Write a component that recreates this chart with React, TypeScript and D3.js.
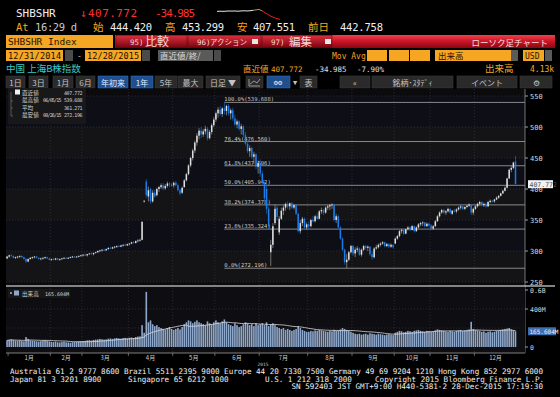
import * as React from 'react';
import * as d3 from 'd3';

type Candle = [number, number, number, number]; // open, high, low, close

const monthLabels = ['1月', '2月', '3月', '4月', '5月', '6月', '7月', '8月', '9月', '10月', '11月', '12月'];

// daily candles
const dec14: Candle[] = [[288, 292, 287, 291]];
const jan15: Candle[] = [
  [291, 294, 289, 293], [293, 295, 291, 292], [292, 293, 288, 289], [289, 291, 287, 290], [290, 292, 288, 291],
  [291, 293, 289, 292], [292, 293, 289, 290], [290, 291, 286, 287], [287, 289, 281, 283], [283, 288, 282, 287],
  [287, 290, 286, 289], [289, 291, 287, 290], [290, 292, 288, 291], [291, 292, 288, 289], [289, 290, 286, 287],
  [287, 289, 285, 288], [288, 290, 286, 289], [289, 291, 287, 290], [290, 291, 287, 288], [288, 289, 285, 286],
];
const feb15: Candle[] = [
  [286, 288, 284, 287], [287, 289, 285, 286], [286, 289, 285, 288], [288, 289, 285, 286], [286, 288, 284, 287],
  [287, 289, 286, 288], [288, 290, 287, 289], [289, 290, 287, 288], [288, 290, 287, 289], [289, 291, 288, 290],
  [290, 292, 289, 291], [291, 292, 289, 290], [290, 292, 289, 291], [291, 293, 290, 292], [292, 294, 291, 293],
];
const mar15: Candle[] = [
  [293, 295, 291, 294], [294, 296, 292, 293], [293, 295, 291, 295], [295, 297, 294, 296], [296, 298, 294, 295],
  [295, 297, 293, 297], [297, 299, 296, 298], [298, 301, 297, 300], [300, 302, 298, 301], [301, 303, 299, 302],
  [302, 304, 300, 301], [301, 304, 300, 303], [303, 306, 302, 305], [305, 307, 303, 304], [304, 307, 303, 306],
  [306, 308, 304, 307], [307, 309, 305, 308], [308, 310, 306, 307], [307, 310, 306, 309], [309, 311, 307, 310],
  [310, 312, 308, 309], [309, 312, 308, 311],
];
const apr15: Candle[] = [
  [311, 313, 309, 312], [312, 315, 311, 314], [314, 316, 312, 313], [313, 317, 312, 316], [316, 319, 314, 317],
  [317, 320, 315, 318], [318, 348, 317, 347], [381, 382, 378, 381], [412, 416, 386, 390], [388, 404, 380, 398],
  [400, 402, 376, 380], [380, 398, 378, 394], [394, 399, 386, 388], [390, 402, 388, 400], [400, 405, 395, 403],
  [403, 409, 400, 406], [406, 410, 398, 401], [401, 408, 399, 405], [405, 412, 402, 409], [409, 411, 403, 407],
  [407, 410, 403, 405],
];
const may15: Candle[] = [
  [406, 412, 402, 410], [410, 413, 404, 406], [406, 409, 396, 398], [398, 400, 390, 393], [394, 404, 392, 402],
  [403, 416, 402, 414], [414, 426, 412, 424], [424, 440, 422, 438], [438, 452, 435, 450], [450, 465, 446, 462],
  [462, 478, 458, 475], [475, 490, 470, 486], [486, 498, 480, 494], [494, 500, 482, 488], [488, 497, 484, 493],
  [493, 502, 488, 497], [497, 500, 478, 482], [482, 495, 480, 492], [492, 506, 488, 503], [503, 516, 500, 512],
];
const jun15: Candle[] = [
  [512, 525, 508, 522], [522, 532, 515, 528], [528, 534, 518, 521], [521, 532, 516, 530], [530, 539.688, 520, 526],
  [526, 536, 519, 534], [534, 537, 518, 522], [522, 530, 512, 527], [527, 531, 510, 514], [514, 520, 502, 504],
  [504, 512, 498, 509], [509, 511, 494, 497], [497, 505, 488, 501], [501, 503, 484, 487], [487, 492, 470, 473],
  [473, 478, 458, 461], [461, 470, 452, 466], [466, 468, 448, 452], [452, 460, 440, 456], [456, 458, 432, 436],
  [436, 446, 425, 442],
];
const jul15: Candle[] = [
  [442, 448, 420, 425], [425, 430, 405, 410], [410, 412, 380, 385], [400, 410, 360, 368], [368, 372, 335, 340],
  [298, 318, 276, 310], [310, 345, 305, 340], [345, 375, 342, 368], [370, 375, 350, 355], [330, 356, 326, 352],
  [352, 370, 350, 365], [365, 374, 358, 370], [370, 378, 365, 376], [376, 380, 368, 372], [372, 378, 366, 377],
  [377, 379, 368, 370], [370, 376, 367, 374], [374, 375, 358, 360], [360, 362, 330, 332], [332, 350, 328, 345],
  [345, 355, 340, 352], [352, 354, 336, 338], [338, 346, 334, 343],
];
const aug15: Candle[] = [
  [343, 348, 335, 340], [340, 352, 338, 350], [350, 356, 346, 348], [348, 358, 346, 356], [356, 361, 350, 352],
  [352, 366, 351, 364], [364, 370, 360, 366], [366, 368, 358, 362], [362, 372, 360, 370], [370, 375, 366, 372],
  [372, 376, 366, 374], [374, 377, 368, 375], [375, 376, 348, 350], [350, 360, 345, 356], [356, 358, 336, 338],
  [338, 340, 318, 320], [320, 322, 300, 302], [302, 304, 278, 282], [282, 295, 272.196, 286], [286, 300, 284, 298],
  [298, 310, 296, 308],
];
const sep15: Candle[] = [
  [308, 310, 292, 296], [296, 306, 290, 302], [302, 308, 298, 304], [304, 306, 292, 294], [294, 304, 291, 302],
  [302, 310, 300, 308], [308, 310, 302, 305], [305, 309, 300, 307], [307, 308, 292, 295], [295, 300, 286, 290],
  [290, 306, 288, 304], [304, 310, 302, 306], [306, 312, 304, 310], [310, 314, 307, 312], [312, 316, 310, 314],
  [314, 315, 306, 308], [308, 313, 306, 311], [311, 313, 305, 307], [307, 312, 305, 310], [310, 311, 304, 306],
];
const oct15: Candle[] = [
  [312, 322, 311, 320], [320, 326, 318, 324], [324, 334, 322, 332], [332, 336, 328, 334], [334, 336, 326, 328],
  [328, 336, 327, 335], [335, 340, 333, 338], [338, 340, 332, 334], [334, 342, 333, 340], [340, 341, 330, 332],
  [332, 340, 331, 338], [338, 345, 336, 343], [343, 347, 340, 345], [345, 348, 340, 346], [346, 347, 338, 340],
  [340, 346, 339, 344], [344, 346, 338, 341],
];
const nov15: Candle[] = [
  [341, 343, 334, 336], [336, 342, 334, 340], [340, 350, 339, 348], [348, 358, 347, 356], [356, 364, 354, 362],
  [362, 368, 360, 366], [366, 368, 360, 362], [362, 366, 358, 364], [364, 370, 362, 368], [368, 369, 360, 362],
  [360, 366, 358, 365], [365, 368, 362, 364], [364, 369, 361, 367], [367, 372, 365, 370], [370, 374, 367, 372],
  [372, 373, 366, 368], [368, 372, 366, 371], [371, 375, 369, 373], [373, 377, 371, 375], [375, 376, 358, 362],
  [362, 370, 358, 368],
];
const dec15: Candle[] = [
  [368, 374, 366, 372], [372, 378, 370, 376], [376, 381, 373, 379], [379, 380, 372, 374], [374, 378, 371, 376],
  [376, 378, 370, 372], [372, 381, 371, 379], [379, 383, 377, 381], [381, 382, 378, 380], [380, 384, 378, 383],
  [383, 388, 382, 386], [386, 390, 384, 389], [389, 394, 388, 393], [393, 399, 392, 397], [397, 404, 396, 402],
  [402, 418, 401, 417], [417, 433, 416, 431], [431, 437, 427, 434], [434, 444, 432, 442.758],
  [444.42, 453.299, 407.551, 407.772],
];

// daily volume, millions
const volDec14 = [70];
const volJan = [75, 80, 72, 68, 65, 70, 62, 60, 105, 85, 70, 66, 64, 60, 58, 62, 66, 70, 64, 60];
const volFeb = [55, 52, 58, 50, 48, 52, 55, 50, 48, 45, 50, 52, 55, 58, 60];
const volMar = [62, 65, 70, 72, 68, 75, 78, 80, 85, 82, 78, 80, 88, 90, 85, 92, 95, 90, 88, 94, 96, 92];
const volApr = [98, 100, 95, 105, 110, 112, 230, 150, 580, 260, 280, 240, 220, 230, 210, 200, 190, 185, 200, 210, 190];
const volMay = [180, 190, 200, 185, 210, 240, 260, 280, 270, 250, 265, 280, 260, 250, 240, 230, 270, 250, 240, 260];
const volJun = [280, 260, 250, 270, 290, 260, 240, 230, 220, 250, 230, 210, 220, 240, 260, 250, 230, 240, 220, 250, 230];
const volJul = [240, 250, 230, 260, 220, 240, 250, 230, 210, 200, 190, 200, 180, 190, 180, 170, 180, 190, 220, 200, 180, 170, 160];
const volAug = [160, 170, 165, 175, 170, 180, 175, 170, 165, 160, 170, 165, 180, 170, 175, 185, 200, 190, 180, 170, 160];
const volSep = [150, 140, 135, 140, 130, 135, 140, 130, 145, 140, 135, 130, 140, 135, 130, 125, 130, 135, 130, 125];
const volOct = [150, 160, 170, 165, 155, 160, 170, 165, 160, 170, 175, 180, 170, 165, 160, 170, 165];
const volNov = [160, 165, 175, 185, 180, 175, 170, 165, 160, 170, 165, 160, 170, 175, 180, 170, 175, 180, 185, 265, 190];
const volDec = [180, 175, 170, 160, 165, 150, 160, 165, 155, 160, 170, 175, 180, 185, 190, 195, 200, 185, 175, 165.604];

const priceTicks = [550, 500, 450, 400, 350, 300, 250];
const volTicks = [{ v: 600, t: '0.6B' }, { v: 400, t: '400M' }, { v: 0, t: '0' }];
const fibRatios = [1, 0.764, 0.618, 0.5, 0.382, 0.236, 0];

const legendRows = [
  { name: '直近値', date: '', val: '407.772' },
  { name: '最高値', date: '06/05/15', val: '539.688' },
  { name: '平均', date: '', val: '361.271' },
  { name: '最安値', date: '08/26/15', val: '272.196' },
];

const sparkPrices = [444, 445, 444.5, 445, 446, 445.5, 446, 445, 446, 447, 446, 447, 449, 451, 453, 447, 438, 430, 422, 416, 411, 408];

const footer1 = 'Australia 61 2 9777 8600 Brazil 5511 2395 9000 Europe 44 20 7330 7500 Germany 49 69 9204 1210 Hong Kong 852 2977 6000';
const footer2 = [
  { t: 'Japan 81 3 3201 8900', x: 10 },
  { t: 'Singapore 65 6212 1000', x: 128 },
  { t: 'U.S. 1 212 318 2000', x: 265 },
  { t: 'Copyright 2015 Bloomberg Finance L.P.', x: 375 },
];
const footer3 = 'SN 592403 JST  GMT+9:00 H440-5381-2 28-Dec-2015 17:19:30';

const MONO = '"DejaVu Sans Mono", monospace';
const JP = '"Noto Sans CJK JP", "Noto Sans", sans-serif';
const ORANGE = '#f5a623';
const BLUE = '#1d7ce8';

const plotL = 6;
const plotR = 525;

function Button(props: { x: number; w: number; label: string; on?: boolean }) {
  const { x, w, label, on } = props;
  return (
    <g>
      <rect x={x} y={76} width={w} height={12} fill={on ? '#1f4f8f' : '#2a2a2a'} stroke={on ? '#2f6fbf' : '#3a3a3a'} strokeWidth={0.6} />
      <text x={x + w / 2} y={85.5} textAnchor="middle" fontSize={8} fontFamily={JP} fill={on ? '#e0ecff' : '#c4c4c4'}>
        {label}
      </text>
    </g>
  );
}

const menuButtons = [
  { x: 116, w: 71, n: '95)', nx: 130, t: '比較', tx: 145, fs: 12, dd: 0 },
  { x: 188, w: 73, n: '96)', nx: 197, t: 'アクション', tx: 210, fs: 7.5, dd: 252 },
  { x: 262, w: 70, n: '97)', nx: 271, t: '編集', tx: 289, fs: 11.5, dd: 325 },
];

export default function App() {
  const candles: Candle[] = [
    ...dec14, ...jan15, ...feb15, ...mar15, ...apr15, ...may15,
    ...jun15, ...jul15, ...aug15, ...sep15, ...oct15, ...nov15, ...dec15,
  ];
  const volumes = [
    ...volDec14, ...volJan, ...volFeb, ...volMar, ...volApr, ...volMay,
    ...volJun, ...volJul, ...volAug, ...volSep, ...volOct, ...volNov, ...volDec,
  ];
  const monthSizes = [jan15, feb15, mar15, apr15, may15, jun15, jul15, aug15, sep15, oct15, nov15, dec15].map((m) => m.length);
  const starts: number[] = [];
  let acc = dec14.length;
  monthSizes.forEach((n) => {
    starts.push(acc);
    acc += n;
  });

  const x = d3.scaleLinear().domain([0, 246]).range([plotL, plotR]);
  const y = d3.scaleLinear().domain([250, 550]).range([282, 96]);
  const yv = d3.scaleLinear().domain([0, 600]).range([347, 290]);
  const bw = 1.5;

  const hiIdx = d3.maxIndex(candles, (c) => c[1]);
  const hi = candles[hiIdx][1];
  const lo = d3.min(candles, (c) => c[2]) as number;

  const ma = volumes.map((_, i) => d3.mean(volumes.slice(Math.max(0, i - 19), i + 1)) as number);
  const maLine = d3
    .line<number>()
    .x((_, i) => x(i + 0.5))
    .y((d) => yv(d))(ma);

  const sx = d3.scaleLinear().domain([0, sparkPrices.length - 1]).range([217, 280]);
  const sy = d3.scaleLinear().domain([405, 455]).range([20, 9]);
  const sparkWhite = d3.line<number>().x((_, i) => sx(i)).y((d) => sy(d))(sparkPrices.slice(0, 13));
  const sparkOlive = d3.line<number>().x((_, i) => sx(i + 12)).y((d) => sy(d))(sparkPrices.slice(12, 16));
  const sparkRed = d3.line<number>().x((_, i) => sx(i + 15)).y((d) => sy(d))(sparkPrices.slice(15));

  const bands = d3.range(0, 6).map((k) => ({ top: 550 - k * 50, bot: 500 - k * 50 }));

  return (
    <svg width={560} height={397} style={{ position: 'fixed', left: 0, top: 0, background: '#000' }}>
      <defs>
        <linearGradient id="redbar" x1="0" y1="0" x2="0" y2="1">
          <stop offset="0" stopColor="#f0404a" />
          <stop offset="0.5" stopColor="#c81426" />
          <stop offset="1" stopColor="#8a0612" />
        </linearGradient>
        <linearGradient id="redbtn" x1="0" y1="0" x2="0" y2="1">
          <stop offset="0" stopColor="#d8303c" />
          <stop offset="1" stopColor="#7a0410" />
        </linearGradient>
      </defs>
      <rect width={560} height={397} fill="#000" />

      {/* header rows */}
      <text x={16} y={17} fontSize={11} fontFamily={MONO} fill="#f0f0f0">SHBSHR</text>
      <text x={80} y={17} fontSize={11} fontFamily={MONO} fill="#ff3030">↓</text>
      <text x={88} y={17} fontSize={11} fontFamily={MONO} fill="#ff3030" textLength={49}>407.772</text>
      <text x={155} y={17} fontSize={11} fontFamily={MONO} fill="#ff3030" textLength={40}>-34.985</text>
      <path d={sparkWhite || ''} fill="none" stroke="#e8e8e8" strokeWidth={1} />
      <path d={sparkOlive || ''} fill="none" stroke="#b0a040" strokeWidth={1} />
      <path d={sparkRed || ''} fill="none" stroke="#e02020" strokeWidth={1} />

      <text x={16} y={31} fontSize={10.5} fontFamily={MONO} fill={ORANGE}>At</text>
      <text x={35} y={31} fontSize={10.5} fontFamily={MONO} fill="#c8c8c8" textLength={42}>16:29 d</text>
      <text x={93} y={31} fontSize={10.5} fontFamily={JP} fill={ORANGE}>始</text>
      <text x={110} y={31} fontSize={10.5} fontFamily={MONO} fill="#f0f0f0" textLength={42}>444.420</text>
      <text x={165} y={31} fontSize={10.5} fontFamily={JP} fill={ORANGE}>高</text>
      <text x={182} y={31} fontSize={10.5} fontFamily={MONO} fill="#f0f0f0" textLength={42}>453.299</text>
      <text x={237} y={31} fontSize={10.5} fontFamily={JP} fill={ORANGE}>安</text>
      <text x={253} y={31} fontSize={10.5} fontFamily={MONO} fill="#f0f0f0" textLength={42}>407.551</text>
      <text x={308} y={31} fontSize={10.5} fontFamily={JP} fill={ORANGE}>前日</text>
      <text x={340} y={31} fontSize={10.5} fontFamily={MONO} fill="#f0f0f0" textLength={43}>442.758</text>

      {/* security bar */}
      <rect x={6} y={35} width={107} height={13} fill={ORANGE} />
      <text x={8} y={45} fontSize={9.5} fontFamily={MONO} fill="#2a1400">SHBSHR Index</text>
      <rect x={115} y={35} width={440} height={13} fill="url(#redbar)" />
      {menuButtons.map((b) => (
        <g key={b.n}>
          <rect x={b.x} y={35.5} width={b.w} height={12} fill="url(#redbtn)" stroke="#5a0008" strokeWidth={0.5} />
          <text x={b.nx} y={45} fontSize={7.5} fontFamily={MONO} fill="#f8d8d8">{b.n}</text>
          <text x={b.tx} y={b.fs > 10 ? 46 : 45} fontSize={b.fs} fontFamily={JP} fill="#f8d8d8">{b.t}</text>
          {b.dd > 0 && <rect x={b.dd} y={39} width={6} height={5} fill="#e8e8e8" />}
        </g>
      ))}
      <text x={548} y={45.5} textAnchor="end" fontSize={8.5} fontFamily={JP} fill="#f8e0e0">ローソク足チャート</text>

      {/* dates row */}
      <rect x={6} y={50} width={57} height={11} fill={ORANGE} />
      <text x={8} y={59} fontSize={8.5} fontFamily={MONO} fill="#1a0c00" textLength={53}>12/31/2014</text>
      <rect x={65} y={50} width={8} height={11} fill="#4a4a4a" />
      <text x={77} y={59} fontSize={8} fontFamily={MONO} fill="#c0c0c0">-</text>
      <rect x={85} y={50} width={56} height={11} fill={ORANGE} />
      <text x={87} y={59} fontSize={8.5} fontFamily={MONO} fill="#1a0c00" textLength={52}>12/28/2015</text>
      <rect x={142} y={50} width={8} height={11} fill="#4a4a4a" />
      <rect x={158} y={50} width={55} height={11} fill="#5a5a5a" />
      <text x={160} y={59} fontSize={8.5} fontFamily={JP} fill="#d8d8d8">直近値/終/</text>
      <rect x={214} y={50} width={7} height={11} fill="#4a4a4a" />
      <text x={332} y={59} fontSize={8} fontFamily={MONO} fill={ORANGE}>Mov Avg</text>
      {[367, 389, 410].map((bx) => (
        <rect key={bx} x={bx} y={50} width={20} height={11} fill={ORANGE} />
      ))}
      <rect x={435} y={50} width={76} height={11} fill={ORANGE} />
      <text x={438} y={59} fontSize={8.5} fontFamily={JP} fill="#2a1400">出来高</text>
      <rect x={511} y={50} width={7} height={11} fill="#5a5a5a" />
      <rect x={523} y={50} width={21} height={11} fill={ORANGE} />
      <text x={525} y={59} fontSize={8} fontFamily={MONO} fill="#2a1400">USD</text>
      <rect x={545} y={50} width={7} height={11} fill="#5a5a5a" />

      {/* title row */}
      <text x={6} y={72} fontSize={9.5} fontFamily={JP} fill="#3cc8c8">中国 上海B株指数</text>
      <text x={243} y={72} fontSize={8.5} fontFamily={JP} fill={ORANGE}>直近値</text>
      <text x={271} y={72} fontSize={7.5} fontFamily={MONO} fill={ORANGE}>407.772</text>
      <text x={315} y={72} fontSize={7.5} fontFamily={MONO} fill="#e0e0e0">-34.985</text>
      <text x={357} y={72} fontSize={7.5} fontFamily={MONO} fill="#e0e0e0">-7.90%</text>
      <text x={485} y={72} fontSize={9.5} fontFamily={JP} fill={ORANGE}>出来高</text>
      <text x={530} y={72} fontSize={8} fontFamily={MONO} fill={ORANGE}>4.13k</text>

      {/* range buttons */}
      <Button x={6} w={19} label="1日" />
      <Button x={29} w={19} label="3日" />
      <Button x={53} w={20} label="1月" />
      <Button x={76} w={19} label="6月" />
      <Button x={98} w={30} label="年初来" on />
      <Button x={131} w={22} label="1年" on />
      <Button x={155} w={22} label="5年" />
      <Button x={178} w={25} label="最大" />
      <Button x={206} w={34} label="日足 ▼" />
      <Button x={246} w={17} label="" />
      <path d="M249,86 L249,79 M249,86 L260,86 M250,84 L254,81 L257,83 L260,79" fill="none" stroke="#c8c8c8" strokeWidth={0.7} />
      <rect x={267} y={76} width={23} height={12} fill="#1f4f8f" stroke="#2f6fbf" strokeWidth={0.6} />
      <text x={278} y={85} textAnchor="middle" fontSize={7} fontFamily={MONO} fill="#e0ecff">⚙⚙</text>
      <text x={295} y={85} textAnchor="middle" fontSize={7} fontFamily={MONO} fill="#c4c4c4">▼</text>
      <Button x={300} w={17} label="表" />
      <Button x={340} w={30} label="«" />
      <Button x={372} w={81} label="銘柄･ｽﾀﾃﾞｨ" />
      <Button x={457} w={60} label="イベント" />
      <Button x={520} w={32} label="⚙" />

      {/* price panel */}
      <rect x={plotL} y={89} width={plotR - plotL} height={196} fill="#0b0b0e" />
      {bands.map((b, k) => (
        <rect key={b.top} x={plotL} y={y(b.top)} width={plotR - plotL} height={y(b.bot) - y(b.top)} fill={k % 2 === 0 ? '#0e0e16' : '#141416'} />
      ))}
      {priceTicks.map((v) => (
        <line key={v} x1={plotL} x2={plotR} y1={y(v)} y2={y(v)} stroke="#3c3c44" strokeWidth={0.6} strokeDasharray="1,2" />
      ))}
      {starts.slice(1).map((s) => (
        <line key={s} x1={x(s)} x2={x(s)} y1={89} y2={353} stroke="#3c3c44" strokeWidth={0.6} strokeDasharray="1,2" />
      ))}

      {/* fibonacci retracement */}
      {fibRatios.map((r) => {
        const v = lo + (hi - lo) * r;
        return (
          <g key={r}>
            <line x1={x(hiIdx + 0.5)} x2={plotR} y1={y(v)} y2={y(v)} stroke="#a8a8a8" strokeWidth={0.8} />
            <text x={x(hiIdx + 0.5)} y={y(v) - 1} fontSize={5.5} fontFamily={MONO} fill="#c8c8c8">
              {`${(r * 100).toFixed(1)}%(${v.toFixed(3)})`}
            </text>
          </g>
        );
      })}

      {/* candles */}
      {candles.map((c, i) => {
        const [o, h, l, cl] = c;
        const up = cl >= o;
        const cx = x(i + 0.5);
        const top = y(Math.max(o, cl));
        const bot = y(Math.min(o, cl));
        return (
          <g key={i}>
            <line x1={cx} x2={cx} y1={y(h)} y2={y(l)} stroke={up ? '#9a9a9a' : '#1a66c0'} strokeWidth={0.7} />
            <rect x={cx - bw / 2} y={top} width={bw} height={Math.max(0.8, bot - top)} fill={up ? '#e0e0e0' : BLUE} />
          </g>
        );
      })}

      {/* legend */}
      <rect x={8} y={88} width={78} height={36} fill="#1a1a1c" opacity={0.9} />
      <path d="M11,92 L11,116 M11,101 L13,101 M11,108 L13,108 M11,116 L13,116" stroke="#909090" strokeWidth={0.5} fill="none" />
      <rect x={15} y={89.5} width={5} height={5} fill="#f0f0f0" />
      {legendRows.map((r, k) => (
        <g key={r.name}>
          <text x={22} y={94.5 + k * 7.5} fontSize={5.6} fontFamily={JP} fill="#d0d0d0">{r.name}</text>
          {r.date && (
            <text x={43} y={94.5 + k * 7.5} fontSize={5} fontFamily={MONO} fill="#d0d0d0" textLength={18.5}>{r.date}</text>
          )}
          <text x={64} y={94.5 + k * 7.5} fontSize={5} fontFamily={MONO} fill="#d0d0d0" textLength={18.5}>{r.val}</text>
        </g>
      ))}

      {/* right price axis */}
      <line x1={plotR} x2={plotR} y1={89} y2={353} stroke="#909090" strokeWidth={0.8} />
      {priceTicks.map((v) => (
        <g key={v}>
          <line x1={plotR} x2={plotR + 3} y1={y(v)} y2={y(v)} stroke="#c0c0c0" strokeWidth={0.8} />
          <text x={plotR + 5} y={y(v) + 2.5} fontSize={7} fontFamily={MONO} fill="#d8d8d8">{v}</text>
        </g>
      ))}
      <rect x={plotR + 3} y={y(407.772) - 4} width={25} height={8} fill="#f2f2f2" />
      <text x={plotR + 4.5} y={y(407.772) + 2.5} fontSize={6.5} fontFamily={MONO} fill="#505050">407.772</text>

      {/* volume panel */}
      <rect x={plotL} y={287} width={plotR - plotL} height={66} fill="#0e0e12" />
      <line x1={plotL} x2={555} y1={286} y2={286} stroke="#b0b0b0" strokeWidth={1.6} />
      {[400, 200].map((v) => (
        <line key={v} x1={plotL} x2={plotR} y1={yv(v)} y2={yv(v)} stroke="#3c3c44" strokeWidth={0.6} strokeDasharray="1,2" />
      ))}
      {starts.slice(1).map((s) => (
        <line key={`v${s}`} x1={x(s)} x2={x(s)} y1={288} y2={353} stroke="#3c3c44" strokeWidth={0.6} strokeDasharray="1,2" />
      ))}
      {volumes.map((v, i) => (
        <rect key={i} x={x(i + 0.5) - 0.8} y={yv(v)} width={1.6} height={yv(0) - yv(v)} fill="#8ea8cc" />
      ))}
      <path d={maLine || ''} fill="none" stroke="#d8d8d8" strokeWidth={0.8} />
      <rect x={8} y={289} width={62} height={9} fill="#1a1a1c" opacity={0.9} />
      <rect x={10} y={292} width={2} height={2} fill="#909090" />
      <rect x={14} y={290.5} width={5} height={5} fill="#8ea8cc" />
      <text x={22} y={296} fontSize={5.6} fontFamily={JP} fill="#d0d0d0">出来高</text>
      <text x={45} y={296} fontSize={5} fontFamily={MONO} fill="#d0d0d0">165.604M</text>
      {volTicks.map((t) => (
        <g key={t.t}>
          <line x1={plotR} x2={plotR + 3} y1={yv(t.v)} y2={yv(t.v)} stroke="#c0c0c0" strokeWidth={0.8} />
          <text x={plotR + 5} y={yv(t.v) + 2.5} fontSize={6.5} fontFamily={MONO} fill="#d8d8d8">{t.t}</text>
        </g>
      ))}
      <rect x={plotR + 3} y={yv(165.604) - 4} width={28} height={8} fill="#3d6fb0" />
      <text x={plotR + 4.5} y={yv(165.604) + 2.5} fontSize={6} fontFamily={MONO} fill="#e8f0ff">165.604M</text>

      {/* time axis */}
      <line x1={plotL} x2={plotR} y1={353} y2={353} stroke="#a0a0a0" strokeWidth={0.8} />
      {starts.map((s, k) => (
        <g key={`m${k}`}>
          <line x1={x(s)} x2={x(s)} y1={353} y2={356} stroke="#a0a0a0" strokeWidth={0.6} />
          <text x={x(s + monthSizes[k] / 2)} y={360} textAnchor="middle" fontSize={6} fontFamily={JP} fill="#d0d0d0">
            {monthLabels[k]}
          </text>
        </g>
      ))}
      <text x={263} y={366} textAnchor="middle" fontSize={4.5} fontFamily={MONO} fill="#c0c0c0">2015</text>

      {/* footer */}
      <text x={10} y={374} fontSize={7.6} fontFamily={MONO} fill="#f0f0f0" textLength={533}>{footer1}</text>
      {footer2.map((f) => (
        <text key={f.t} x={f.x} y={381.5} fontSize={7.6} fontFamily={MONO} fill="#f0f0f0">{f.t}</text>
      ))}
      <text x={543} y={389} textAnchor="end" fontSize={7.6} fontFamily={MONO} fill="#f0f0f0">{footer3}</text>
    </svg>
  );
}
